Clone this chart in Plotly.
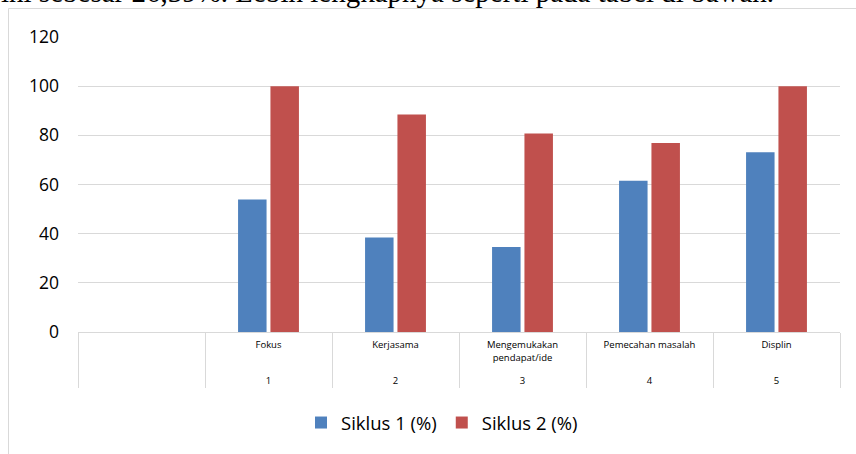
import plotly.graph_objects as go

# Data
aspects = ["\u00a0", "Fokus", "Kerjasama", "Mengemukakan<br>pendapat/ide<br>\u00a0",
           "Pemecahan masalah", "Displin"]
numbers = ["\u00a0\u00a0", "1", "2", "3", "4", "5"]
siklus1 = [None, 53.85, 38.46, 34.62, 61.54, 73.08]
siklus2 = [None, 100, 88.46, 80.77, 76.92, 100]
series_names = ["Siklus 1 (%)", "Siklus 2 (%)"]
colors = ["#4f81bd", "#c0504d"]
yticks = [0, 20, 40, 60, 80, 100, 120]
caption = "ini sebesar 26,39%. Lebih lengkapnya seperti pada tabel di bawah."

fig = go.Figure()
for name, vals, col in zip(series_names, [siklus1, siklus2], colors):
    fig.add_trace(go.Bar(
        x=[numbers, aspects], y=vals, name=name,
        marker=dict(color=col, line=dict(width=0)),
    ))

L, R, T, B = 78, 16, 37, 122
W, H = 856, 454
pw, ph = W - L - R, H - T - B

def px_x(x):
    return (x - L) / pw

def px_y(y):
    return (H - B - y) / ph

fig.update_layout(
    width=W, height=H,
    margin=dict(l=L, r=R, t=T, b=B, autoexpand=False),
    paper_bgcolor="white", plot_bgcolor="white",
    barmode="group", bargap=0.49, bargroupgap=0.12,
    font=dict(family="Open Sans", color="#000000"),
    showlegend=True,
    legend=dict(orientation="h", x=px_x(442), xanchor="center",
                y=px_y(423), yanchor="middle",
                font=dict(size=18.5, family="Open Sans", color="#000000"),
                itemwidth=30, traceorder="normal"),
    xaxis=dict(type="multicategory", showgrid=False, showline=True,
               linecolor="#d9d9d9", linewidth=1, ticks="",
               ticklabelstandoff=4,
               tickfont=dict(size=9.5, family="Open Sans", color="#000000"),
               showdividers=True, dividercolor="#d9d9d9", dividerwidth=1,
               automargin=False),
    yaxis=dict(range=[0, 120], tickvals=yticks, showgrid=True,
               gridcolor="#d9d9d9", gridwidth=1, zeroline=False,
               showline=False, ticks="", ticklabelstandoff=18,
               tickfont=dict(size=17.5, family="Open Sans", color="#000000"),
               automargin=False),
)

# chart frame (partially visible)
fig.add_shape(type="rect", xref="paper", yref="paper",
              x0=px_x(8.5), x1=px_x(900), y0=px_y(600), y1=px_y(8.5),
              line=dict(color="#d9d9d9", width=1), fillcolor="rgba(0,0,0,0)",
              layer="below")

# document text cut at top
fig.add_annotation(text=caption, xref="paper", yref="paper",
                   x=px_x(-1), xanchor="left", y=px_y(10.5), yanchor="bottom",
                   showarrow=False,
                   font=dict(family="Liberation Serif", size=29, color="#000000"))

fig.write_html("out.html")
